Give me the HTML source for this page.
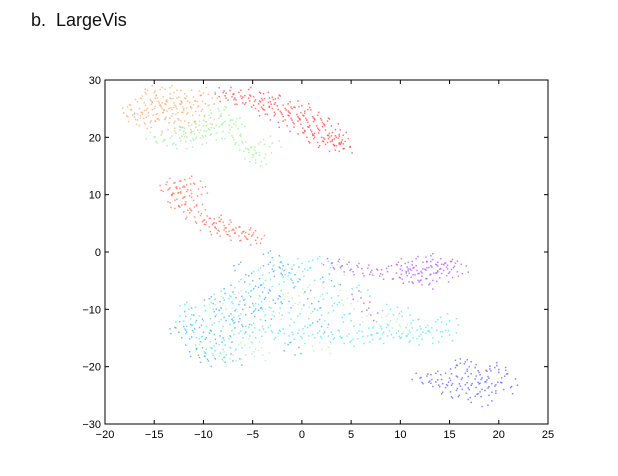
<!DOCTYPE html>
<html><head><meta charset="utf-8"><style>
body{margin:0;background:#fff;width:618px;height:476px;overflow:hidden;font-family:"Liberation Sans",sans-serif}
#title{position:absolute;left:31px;top:10px;font-size:18px;color:#111}
svg{position:absolute;left:0;top:0}
</style></head><body>
<div id="title">b.&nbsp; LargeVis</div>
<svg id="chart" width="618" height="476"></svg>
<script>
const xTicks=[-20,-15,-10,-5,0,5,10,15,20,25];
const yTicks=[30,20,10,0,-10,-20,-30];
const xTickLabels=["\u221220","\u221215","\u221210","\u22125","0","5","10","15","20","25"];
const yTickLabels=["30","20","10","0","\u221210","\u221220","\u221230"];
const orangePts=[[-17,24],[-16.5,25],[-16,26],[-15.5,27],[-15,25],[-14.5,26],[-14,27.5],[-13.5,25],[-13,26],[-12.5,27],[-12,25],[-11.5,26],[-11,27],[-10.5,25.5],[-16.8,23],[-15.8,23.5],[-14.8,24],[-13.8,23.5],[-12.8,24],[-11.8,23.5],[-10.8,24.5],[-16,22.5],[-14.5,22],[-13,22.5],[-11.5,22],[-15,27.8],[-13,27.8],[-9.8,26.5],[-9.5,27.5],[-12,21],[-17.3,24.5],[-14,24.8],[-10,23]];
const redPts=[[-8,27.8],[-7,27.5],[-6,27],[-5,27.5],[-4,26.5],[-3,27],[-2,26],[-1,25],[0,25.5],[-0.5,24],[0.5,23],[1,24],[1.5,22],[2,23],[2.5,21],[3,22],[3.5,20],[4,19],[3.5,18.5],[3,19.5],[2,20],[1,21],[0,22],[-1,23],[-2,24],[-3,25],[-4,25],[-5,26],[-6,26],[-1.5,22],[2.5,18.5],[4.2,18],[3.8,20.5],[-2.5,25.5],[0.5,20],[1.5,19.5],[-7.5,26.5],[-3.5,24]];
const greenPts=[[-15,20],[-14,19.5],[-13,19],[-12,19],[-11,19.5],[-10,20],[-9,20.5],[-8,21],[-7,20],[-6,19],[-5,17],[-4.5,16],[-5.5,18],[-10,22],[-9,23],[-8,22.5],[-7,23],[-11,21],[-6.5,21.5],[-4,18],[-3,19],[-8.5,25],[-7.5,24],[-12,20.5],[-5,16.5],[-9.5,21.5]];
const salmonPts=[[-13,12],[-13.5,11],[-13.2,10],[-12.8,9],[-12.5,8],[-12,11.5],[-11.5,10.5],[-11,12],[-10.5,11],[-11,9],[-12,7],[-11,6],[-10,5.5],[-9,5],[-8,4.5],[-7,4],[-6,3.5],[-5,3],[-4.5,2.5],[-9.5,4],[-8.5,3.8],[-7.5,3],[-6.5,3],[-10.5,7],[-12.3,10.5],[-5.5,2.2],[-8,5.2]];
const purplePts=[[3,-2],[4,-2.5],[5,-3],[6,-3.2],[7,-3.5],[8,-3.8],[9,-3.7],[10,-3],[10.5,-2],[11,-3],[11.5,-4],[12,-2],[12.5,-3],[13,-4],[13.5,-1.5],[14,-3],[14.5,-2],[15,-3.5],[15.5,-2.5],[16,-2.8],[12,-5],[13,-5.5],[11,-4.5],[14,-4.5],[10,-4.5],[6,-8],[7,-11],[13.5,-2.5]];
const bluePts=[[12,-22],[13,-22.5],[14,-23.5],[15,-24.5],[16,-25],[15,-22],[16,-21],[17,-20],[18,-21],[19,-22],[20,-21],[21,-22.5],[20.5,-24],[19,-25],[18,-26],[17,-24],[18,-23],[16,-23],[19,-23.5],[17,-22],[20,-20.5],[16.5,-19.5],[14,-22]];
const cyanPts=[[-12,-12],[-11,-14],[-11.5,-10],[-10,-16],[-9,-18],[-8,-17],[-7,-16],[-6,-15],[-5,-14],[-4,-13],[-3,-14],[-2,-15],[-1,-14],[0,-15],[1,-14],[2,-15],[3,-14],[4,-15],[5,-15.5],[6,-15],[7,-14.5],[8,-15],[9,-14],[10,-15],[11,-14],[12,-13],[13,-14],[14,-13],[15,-12],[15,-14.5],[13,-15],[11,-15.5],[8,-13],[5,-12],[2,-11],[0,-12],[-2,-11],[-4,-10],[-6,-12],[-8,-13],[-10,-12],[-9,-10],[-7,-9],[-5,-8],[-3,-6],[-1,-5],[1,-4],[2,-2],[0,-2],[-2,-3],[-4,-4],[-6,-6],[-8,-8],[3,-8],[4,-10],[6,-7],[9,-10],[11,-11]];
const skyPts=[[-12,-13],[-11,-11],[-10,-14],[-9,-15],[-10.5,-18],[-9.5,-19],[-8,-11],[-7,-12],[-6,-10],[-5,-9],[-4,-7],[-3,-8],[-2,-4],[-1,-3],[0,-6],[-3,-3],[-5,-5],[-7,-7],[-9,-9],[-11,-16],[-8,-15],[-6,-13],[-4,-11],[-2,-9],[1,-9],[3,-5],[2,-13],[-1,-17],[-7,-19],[-12.5,-14],[-6,-3],[-3,-1]];
const limePts=[[-9,-10],[-8,-9],[-6,-8],[-4,-9],[-3,-11],[-1,-8],[1,-7],[0,-10],[-5,-16],[-7,-18],[-8,-19],[-10,-17],[3,-6],[5,-9],[7,-12],[9,-12],[10,-13],[-2,-2],[4,-3],[-6,-17],[2,-17],[-4,-18]];
const series=[
 {pts:orangePts,c:"#ff9a55",n:"orange-cluster"},
 {pts:redPts,c:"#ff2020",n:"red-cluster"},
 {pts:greenPts,c:"#80f080",n:"green-cluster"},
 {pts:salmonPts,c:"#ff5030",n:"salmon-cluster"},
 {pts:purplePts,c:"#a030ff",n:"purple-cluster"},
 {pts:bluePts,c:"#3838ff",n:"blue-cluster"},
 {pts:cyanPts,c:"#30e0e8",n:"cyan-cluster"},
 {pts:skyPts,c:"#1890ff",n:"sky-cluster"},
 {pts:limePts,c:"#a0f0a0",n:"lime-cluster"}];
const L=105,R=548,T=80,B=424;
const sx=v=>L+(v+20)/45*(R-L);
const sy=v=>T+(30-v)/60*(B-T);
const NS="http://www.w3.org/2000/svg";
const svg=document.getElementById('chart');
function mk(t,a){const e=document.createElementNS(NS,t);for(const k in a)e.setAttribute(k,a[k]);return e;}
const spread=[[0,0],[0.7,0.3],[-0.4,0.7],[0.3,-0.8],[-0.8,-0.2],[0.9,-0.6],[-0.2,1.0],[-0.9,0.5]];
series.forEach(s=>{
 const g=mk('g',{});
 
 
 s.pts.forEach((p,i)=>{
  for(let k=0;k<6;k++){
   const o=spread[(i*3+k)%spread.length];
   const c=mk('rect',{x:sx(p[0]+o[0])-0.75,y:sy(p[1]+o[1]*1.2)-0.75,width:1.5,height:1.5,fill:s.c,opacity:0.6});
   
   
   g.appendChild(c);
  }
 });
 svg.appendChild(g);
});
const frame=mk('rect',{x:L,y:T,width:R-L,height:B-T,fill:'none',stroke:'#000','stroke-width':1});


svg.appendChild(frame);
xTicks.forEach((v,i)=>{
 const x=sx(v);
 svg.appendChild(mk('line',{x1:x,x2:x,y1:B,y2:B-4,stroke:'#000'}));
 svg.appendChild(mk('line',{x1:x,x2:x,y1:T,y2:T+4,stroke:'#000'}));
 const t=mk('text',{x:x,y:B+14,'text-anchor':'middle','font-size':11,'font-family':'Liberation Sans, sans-serif'});
 t.textContent=xTickLabels[i];
 
 
 svg.appendChild(t);
});
yTicks.forEach((v,i)=>{
 const y=sy(v);
 svg.appendChild(mk('line',{x1:L,x2:L+4,y1:y,y2:y,stroke:'#000'}));
 svg.appendChild(mk('line',{x1:R,x2:R-4,y1:y,y2:y,stroke:'#000'}));
 const t=mk('text',{x:L-4,y:y+4,'text-anchor':'end','font-size':11,'font-family':'Liberation Sans, sans-serif'});
 t.textContent=yTickLabels[i];
 
 
 svg.appendChild(t);
});
</script>
</body></html>
